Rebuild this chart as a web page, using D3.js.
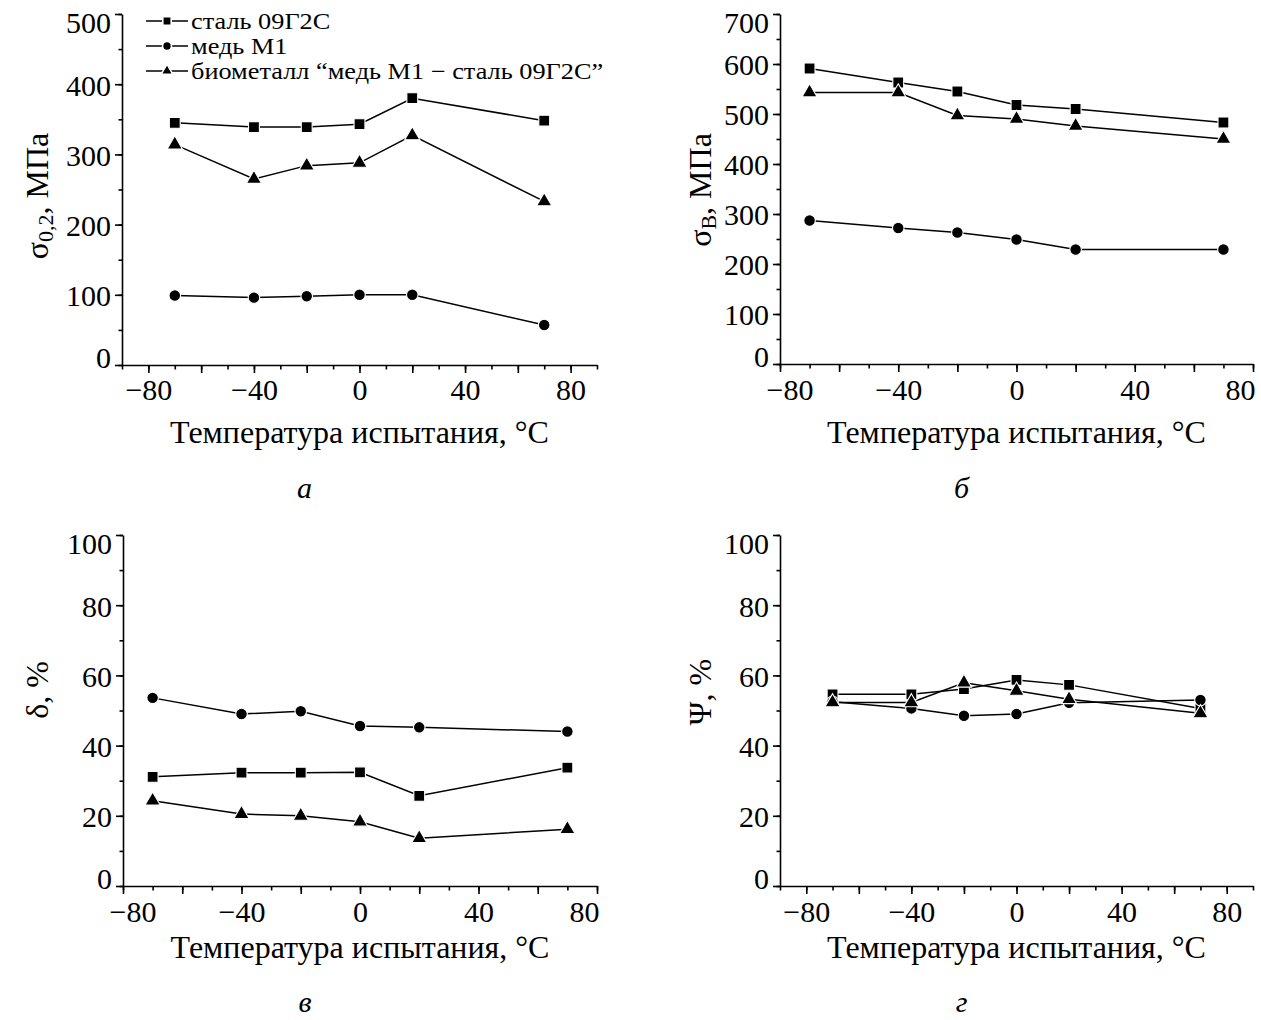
<!DOCTYPE html>
<html><head><meta charset="utf-8">
<script src="https://cdn.jsdelivr.net/npm/d3@7"></script>
<style>
body{margin:0;background:#fff}
svg{display:block}
text{font-family:"Liberation Serif","Times New Roman",serif;fill:#000}
</style>
</head><body>
<svg id="chart" width="1261" height="1020"></svg>
<script>
// ---- data ----
const temperatures = [-70, -40, -20, 0, 20, 70];
const seriesNames = ["сталь 09Г2С", "медь М1", "биометалл “медь М1 − сталь 09Г2С”"];
const xTickLabels = [-80, -40, 0, 40, 80];

const yieldSteel   = [345, 339, 339, 343, 380, 348];
const yieldCopper  = [99, 96, 98, 100, 100, 57];
const yieldBimetal = [314, 265, 284, 288, 327, 233];

const tensileSteel   = [591, 563, 545, 518, 510, 483];
const tensileCopper  = [287, 272, 263, 249, 229, 229];
const tensileBimetal = [543, 543, 497, 490, 476, 450];

const elongSteel   = [31.1, 32.3, 32.3, 32.4, 25.7, 33.7];
const elongCopper  = [53.6, 49.0, 49.8, 45.6, 45.2, 44.0];
const elongBimetal = [24.3, 20.5, 20.0, 18.3, 13.6, 16.2];

const reductSteel   = [54.6, 54.6, 56.1, 58.7, 57.3, 50.6];
const reductCopper  = [52.5, 50.6, 48.5, 49.0, 52.2, 53.0];
const reductBimetal = [52.3, 52.3, 57.9, 55.6, 53.2, 49.2];

const xTitle = "Температура испытания, °С";
const panelLetters = ["а", "б", "в", "г"];

// ---- layout ----
const svg = d3.select("#chart");
const symbolTypes = [d3.symbolSquare, d3.symbolCircle, d3.symbolTriangle];
const symbolSizes = [118, 105, 100];

const panels = [
  {xd:[-90,90], xr:[122,597], yd:[0,500], yr:[365,14], yMajor:100, yMinor:50,
   series:[yieldSteel, yieldCopper, yieldBimetal], ytitle:{main:"σ", sub:"0,2", rest:", МПа"}, tx:37, ty:196,
   xtitleY:443, letterY:498, tickBase:400},
  {xd:[-80,80], xr:[780,1253], yd:[0,700], yr:[364,14], yMajor:100, yMinor:50,
   series:[tensileSteel, tensileCopper, tensileBimetal], ytitle:{main:"σ", sub:"B", rest:", МПа"}, tx:700, ty:190,
   xtitleY:443, letterY:498, tickBase:400},
  {xd:[-80,80], xr:[123,597], yd:[0,100], yr:[886,535], yMajor:20, yMinor:10,
   series:[elongSteel, elongCopper, elongBimetal], ytitle:{main:"δ, %"}, tx:37, ty:690,
   xtitleY:958, letterY:1012, tickBase:922},
  {xd:[-90,90], xr:[780,1253], yd:[0,100], yr:[886,535], yMajor:20, yMinor:10,
   series:[reductSteel, reductCopper, reductBimetal], ytitle:{main:"Ψ, %"}, tx:700, ty:692,
   xtitleY:958, letterY:1012, tickBase:922}
];

panels.forEach((p, pi) => {
  const x = d3.scaleLinear().domain(p.xd).range(p.xr);
  const y = d3.scaleLinear().domain(p.yd).range(p.yr);
  const g = svg.append("g");
  const y0 = p.yr[0], x0 = p.xr[0];

  // x minor ticks (every 10)
  const xMinor = d3.range(Math.ceil(p.xd[0]/10)*10, p.xd[1]+0.1, 10);
  g.append("g").attr("transform", `translate(0,${y0})`)
    .call(d3.axisBottom(x).tickValues(xMinor).tickSize(4.5).tickSizeOuter(0).tickFormat(""))
    .call(a => a.selectAll("path,line").attr("stroke","#000").attr("stroke-width",1.6));
  const xMajor = d3.range(Math.ceil(p.xd[0]/20)*20, p.xd[1]+0.1, 20);
  const xa = g.append("g").attr("transform", `translate(0,${y0})`)
    .call(d3.axisBottom(x).tickValues(xMajor).tickSize(8).tickSizeOuter(0)
      .tickFormat(d => xTickLabels.includes(d) ? d3.format("")(d) : ""));
  xa.select(".domain").remove();
  xa.selectAll("line").attr("stroke","#000").attr("stroke-width",1.6);
  xa.selectAll("text").attr("font-size", 30).attr("y", null).attr("dy", null)
    .attr("transform", `translate(0,${p.tickBase - y0})`);
  // keep edge labels inside the axis extent
  xa.selectAll(".tick").each(function(d) {
    const t = d3.select(this).select("text");
    if (!t.text()) return;
    const w = t.node().getComputedTextLength();
    const cx = x(d);
    let shift = 0;
    if (cx + w/2 > p.xr[1] + 2) shift = p.xr[1] + 2 - (cx + w/2);
    if (cx - w/2 < p.xr[0] - 14) shift = p.xr[0] - 14 - (cx - w/2);
    t.attr("x", shift);
  });

  // y axis
  const yMinorVals = d3.range(p.yd[0], p.yd[1]+0.1, p.yMinor);
  g.append("g").attr("transform", `translate(${x0},0)`)
    .call(d3.axisLeft(y).tickValues(yMinorVals).tickSize(3.5).tickSizeOuter(0).tickFormat(""))
    .call(a => a.selectAll("path,line").attr("stroke","#000").attr("stroke-width",1.6));
  const yMajorVals = d3.range(p.yd[0], p.yd[1]+0.1, p.yMajor);
  const ya = g.append("g").attr("transform", `translate(${x0},0)`)
    .call(d3.axisLeft(y).tickValues(yMajorVals).tickSize(7).tickSizeOuter(0).tickPadding(4));
  ya.select(".domain").remove();
  ya.selectAll("line").attr("stroke","#000").attr("stroke-width",1.6);
  ya.selectAll("text").attr("font-size", 30)
    .attr("dy", d => d === p.yd[1] ? "0.62em" : d === p.yd[0] ? "0.08em" : "0.36em");
  g.selectAll(".tick text").attr("fill","#000");

  // lines + markers
  const line = d3.line().x((d,i) => x(temperatures[i])).y(d => y(d));
  p.series.forEach((vals) => {
    g.append("path").datum(vals).attr("d", line)
      .attr("fill","none").attr("stroke","#000").attr("stroke-width",1.5);
  });
  p.series.forEach((vals, si) => {
    g.selectAll(null).data(vals).join("path")
      .attr("d", d3.symbol().type(symbolTypes[si]).size(symbolSizes[si]))
      .attr("transform", (d,i) => `translate(${x(temperatures[i])},${y(d)})`)
      .attr("fill","#000").attr("stroke","#fff").attr("stroke-width",1.1);
  });

  // x title
  const cx = (p.xr[0]+p.xr[1])/2;
  g.append("text").attr("x", cx).attr("y", p.xtitleY).attr("text-anchor","middle")
    .attr("font-size", 32).text(xTitle);
  // panel letter
  g.append("text").attr("x", cx - 55).attr("y", p.letterY).attr("text-anchor","middle")
    .attr("font-size", 30).attr("font-style","italic").text(panelLetters[pi]);

  // y title
  const yt = g.append("text").attr("transform", `translate(${p.tx},${p.ty}) rotate(-90)`)
    .attr("text-anchor","middle").attr("dominant-baseline","central").attr("font-size", 32);
  yt.append("tspan").text(p.ytitle.main);
  if (p.ytitle.sub) {
    yt.append("tspan").attr("font-size", 22).attr("dy", "0.35em").text(p.ytitle.sub);
    yt.append("tspan").attr("dy", "-0.24em").text(p.ytitle.rest);
  }
});

// legend (panel а)
const legend = svg.append("g");
seriesNames.forEach((name, i) => {
  const ly = 21 + i * 25;
  legend.append("line").attr("x1",146).attr("x2",188).attr("y1",ly).attr("y2",ly)
    .attr("stroke","#000").attr("stroke-width",1.5);
  legend.append("path").attr("d", d3.symbol().type(symbolTypes[i]).size(symbolSizes[i]*0.6))
    .attr("transform", `translate(167,${ly})`).attr("fill","#000")
    .attr("stroke","#fff").attr("stroke-width",1.6);
  legend.append("text").attr("transform", `translate(191,${ly}) scale(1.12,1)`)
    .attr("dy","0.34em").attr("font-size",23.5).text(name);
});
</script>
</body></html>
